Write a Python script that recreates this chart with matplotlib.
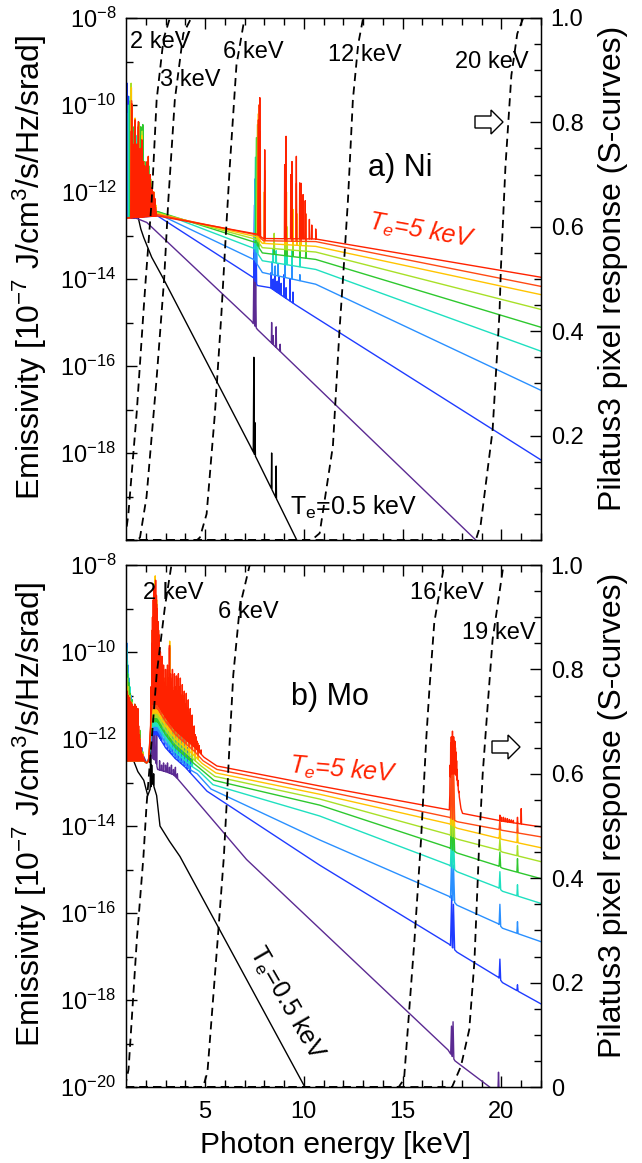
import numpy as np
import matplotlib
matplotlib.use("Agg")
import matplotlib.pyplot as plt
from matplotlib.patches import FancyArrow
from matplotlib.ticker import FixedLocator, FixedFormatter

plt.rcParams['font.family'] = ['Liberation Sans', 'DejaVu Sans']
plt.rcParams['mathtext.fontset'] = 'custom'
plt.rcParams['mathtext.rm'] = 'Liberation Sans'
plt.rcParams['mathtext.it'] = 'Liberation Sans:italic'
plt.rcParams['mathtext.bf'] = 'Liberation Sans:bold'

# electron temperatures (keV) and their colours, coldest first
TEMPS = [0.5, 1.0, 1.5, 2.0, 2.5, 3.0, 3.5, 4.0, 4.5, 5.0]
COLORS = ['#000000', '#5b2a92', '#1f3cff', '#2a90ff', '#1fe0c0',
          '#2ec82e', '#a8e028', '#ffc400', '#ff4a14', '#ff2200']

# ---------- a) Ni : log10 emissivity, smooth base (E, log) + lines (E, log[, half width]) ----------
NI_BASE = [
    [(1.0, -12.3), (1.2, -12.4), (1.37, -12.6), (1.6, -12.55), (1.75, -12.85), (1.9, -13.05), (2.3, -13.5),
     (2.9, -14.0), (7.3, -17.85), (7.6, -18.12), (9.64, -20.0), (10.0, -20.35)],
    [(1.0, -12.6), (1.5, -12.6), (2.05, -12.7), (5.9, -14.35), (7.35, -14.97), (7.65, -15.16), (18.7, -20.0), (19.0, -20.13)],
    [(1.0, -12.6), (2.6, -12.55), (7.45, -13.97), (7.65, -14.15), (8.3, -14.2), (9.6, -14.6), (22.0, -18.16)],
    [(1.0, -12.6), (2.6, -12.5), (7.5, -13.56), (7.9, -13.85), (10.6, -14.12), (22.0, -16.56)],
    [(1.0, -12.6), (2.6, -12.45), (7.5, -13.3), (7.9, -13.58), (10.6, -13.78), (22.0, -15.66)],
    [(1.0, -12.6), (2.6, -12.45), (7.55, -13.16), (7.9, -13.4), (10.6, -13.55), (22.0, -15.11)],
    [(1.0, -12.6), (2.6, -12.48), (7.6, -13.09), (7.9, -13.28), (10.6, -13.38), (22.0, -14.70)],
    [(1.0, -12.6), (2.6, -12.5), (7.6, -13.03), (7.9, -13.18), (10.6, -13.25), (22.0, -14.36)],
    [(1.0, -12.6), (2.6, -12.52), (7.65, -12.99), (7.95, -13.12), (10.6, -13.14), (22.0, -14.17)],
    [(1.0, -12.6), (2.6, -12.55), (7.65, -12.97), (7.95, -13.07), (10.6, -13.08), (22.0, -13.96)],
]
NI_LINES = [
    [(1.04, -11.2), (1.1, -11.6), (1.16, -11.8), (1.25, -12.1), (7.47, -15.8, 0.03), (7.52, -17.3, 0.03),
     (8.37, -18.0), (8.6, -18.3)],
    [(1.0, -8.4), (1.02, -9.5), (1.04, -9.8), (1.07, -10.5), (1.1, -11.0), (1.15, -11.5), (1.22, -11.9), (1.3, -12.2),
     (1.45, -12.4), (7.48, -13.4, 0.04), (7.56, -13.9, 0.03), (8.37, -15.0), (8.45, -15.3), (8.6, -15.1), (8.8, -15.5)],
    [(1.0, -9.4), (1.03, -10.0), (1.06, -9.5), (1.09, -10.2), (1.12, -9.8), (1.16, -10.5), (1.2, -10.3), (1.25, -10.9),
     (1.32, -11.2), (1.4, -11.5), (1.5, -11.8), (1.6, -11.9), (1.75, -12.2), (1.9, -12.3), (2.05, -12.45),
     (7.5, -12.3, 0.04), (7.58, -12.9, 0.03), (8.35, -13.85), (8.45, -14.0), (8.55, -13.9), (8.65, -14.05),
     (8.75, -13.95), (8.85, -14.1), (9.0, -13.9), (9.1, -14.2), (9.3, -14.0), (9.45, -14.3)],
    [(1.03, -10.0), (1.1, -10.2), (1.18, -10.0), (1.26, -10.6), (1.35, -11.0), (1.45, -11.2), (1.55, -11.5),
     (1.65, -11.4), (1.8, -11.8), (1.95, -12.0), (2.1, -12.2), (2.3, -12.4),
     (7.52, -11.7, 0.04), (7.6, -12.2, 0.03), (8.4, -13.6), (8.55, -13.7), (8.7, -13.65), (9.05, -13.55),
     (9.4, -13.7), (9.8, -13.9)],
    [(1.15, -10.0), (1.22, -9.8), (1.3, -10.3), (1.4, -10.9), (1.5, -10.7), (1.62, -10.9), (1.72, -11.0),
     (1.85, -11.3), (1.95, -11.6), (2.1, -11.9), (2.3, -12.2), (2.45, -12.35),
     (7.55, -11.2, 0.04), (7.65, -11.8, 0.03), (8.45, -13.3), (8.6, -13.35), (9.05, -13.2), (9.15, -13.3),
     (9.4, -13.35), (9.8, -13.5)],
    [(1.22, -9.9), (1.27, -9.6), (1.35, -10.5), (1.44, -10.8), (1.55, -10.9), (1.65, -10.4), (1.75, -10.5),
     (1.85, -10.45), (1.95, -11.3), (2.05, -11.6), (2.15, -11.4), (2.3, -11.9), (2.45, -12.2),
     (7.6, -10.75, 0.04), (7.7, -11.4, 0.03), (8.5, -13.1), (9.05, -12.9), (9.15, -13.0), (9.45, -13.1),
     (9.8, -13.25), (10.1, -13.35)],
    [(1.26, -9.5), (1.3, -10.0), (1.4, -10.9), (1.47, -10.35), (1.56, -11.0), (1.64, -10.4), (1.73, -11.2),
     (1.82, -10.6), (1.9, -11.3), (2.02, -11.5), (2.12, -11.2), (2.25, -11.7), (2.4, -12.0), (2.5, -12.3),
     (7.65, -10.45, 0.04), (7.72, -11.0, 0.03), (8.5, -12.95), (9.05, -12.7), (9.15, -12.8), (9.45, -12.85),
     (9.8, -13.0), (10.1, -13.15)],
    [(1.27, -9.6), (1.32, -10.4), (1.4, -11.0), (1.46, -10.3), (1.55, -11.1), (1.63, -10.45), (1.72, -11.2),
     (1.8, -10.7), (1.9, -11.4), (2.0, -11.5), (2.12, -11.2), (2.25, -11.8), (2.4, -12.0), (2.5, -12.3),
     (7.7, -10.2, 0.04), (7.75, -10.8, 0.03), (8.0, -12.0), (9.05, -12.2), (9.12, -12.0), (9.45, -12.4),
     (9.65, -12.5), (9.85, -12.7)],
    [(1.28, -9.9), (1.33, -10.6), (1.38, -11.0), (1.45, -10.4), (1.52, -11.2), (1.62, -10.5), (1.7, -11.3),
     (1.8, -10.9), (1.9, -11.5), (2.0, -11.6), (2.12, -11.3), (2.25, -11.9), (2.4, -12.1), (2.5, -12.35),
     (7.72, -10.0, 0.04), (7.78, -10.6, 0.03), (8.02, -11.5), (9.05, -11.8), (9.1, -11.3), (9.4, -12.0),
     (9.62, -11.8), (9.85, -12.3), (10.1, -12.5)],
    [(1.27, -10.6), (1.29, -9.97), (1.31, -10.8), (1.34, -11.3), (1.37, -10.9), (1.40, -11.6), (1.43, -11.0),
     (1.46, -10.34), (1.49, -11.2), (1.52, -11.7), (1.55, -10.9), (1.58, -11.5), (1.61, -11.1), (1.63, -10.38),
     (1.66, -11.4), (1.69, -11.8), (1.72, -11.0), (1.75, -11.6), (1.78, -11.2), (1.80, -10.8), (1.83, -11.5),
     (1.86, -12.0), (1.89, -11.3), (1.92, -11.8), (1.95, -11.4), (1.98, -12.1), (2.01, -11.5), (2.04, -11.9),
     (2.07, -11.3), (2.10, -11.7), (2.13, -11.18), (2.16, -11.9), (2.19, -12.2), (2.22, -11.6), (2.25, -12.0),
     (2.28, -12.3), (2.31, -11.9), (2.34, -12.2), (2.37, -12.4), (2.40, -12.0), (2.43, -12.3), (2.46, -12.15),
     (2.49, -12.4), (2.52, -12.45),
     (7.70, -10.34, 0.03), (7.77, -9.83, 0.03), (8.02, -11.03, 0.025),
     (9.03, -11.37), (9.1, -10.72), (9.34, -11.6), (9.4, -11.3), (9.62, -11.18), (9.79, -11.79), (9.86, -11.8),
     (9.96, -12.06), (10.07, -12.2), (10.28, -12.63), (10.4, -12.76), (10.6, -12.85)],
]

# ---------- b) Mo ----------
MO_BASE = [
    [(1.0, -12.1), (1.3, -12.4), (1.6, -12.75), (1.9, -12.95), (2.1, -13.3), (2.35, -13.0), (2.55, -13.3),
     (2.72, -14.0), (3.2, -14.35), (3.73, -14.7), (10.05, -20.0), (10.3, -20.2)],
    [(1.0, -11.6), (1.3, -11.8), (1.6, -12.1), (2.04, -12.55), (2.2, -12.4), (2.5, -12.5), (2.6, -12.7),
     (3.0, -12.75), (3.4, -12.82), (3.64, -12.93), (7.1, -14.77), (17.3, -19.15), (17.65, -19.4),
     (19.4, -20.0), (19.6, -20.1)],
    [(1.0, -12.5), (1.9, -12.5), (2.04, -12.55), (2.15, -12.5), (2.3, -11.9), (2.6, -11.9), (3.0, -12.2),
     (3.5, -12.45), (4.0, -12.65), (4.4, -12.85), (5.1, -13.2), (10.8, -14.9), (17.36, -16.72),
     (17.75, -16.9), (19.85, -17.48), (20.05, -17.6), (22.0, -18.09)],
    [(1.0, -12.5), (1.9, -12.5), (2.04, -12.55), (2.15, -12.5), (2.3, -11.8), (2.6, -11.8), (3.0, -12.1),
     (3.5, -12.4), (4.0, -12.6), (4.3, -12.72), (4.6, -12.8), (5.3, -13.15), (10.8, -14.32), (17.36, -15.62),
     (17.75, -15.82), (19.85, -16.25), (20.05, -16.35), (22.0, -16.66)],
    [(1.0, -12.5), (1.9, -12.5), (2.04, -12.55), (2.15, -12.5), (2.3, -11.7), (2.6, -11.7), (3.0, -12.0),
     (3.5, -12.3), (4.0, -12.5), (4.4, -12.65), (4.7, -12.74), (5.4, -13.05), (10.8, -13.77), (17.36, -14.9),
     (17.75, -15.05), (19.85, -15.42), (20.05, -15.5), (22.0, -15.78)],
    [(1.0, -12.5), (1.9, -12.5), (2.04, -12.55), (2.15, -12.5), (2.3, -11.6), (2.6, -11.6), (3.0, -11.9),
     (3.5, -12.2), (4.0, -12.4), (4.4, -12.55), (4.75, -12.68), (5.45, -12.95), (10.8, -13.52), (17.36, -14.5),
     (17.75, -14.62), (19.85, -14.92), (20.05, -14.97), (22.0, -15.21)],
    [(1.0, -12.5), (1.9, -12.5), (2.04, -12.55), (2.15, -12.5), (2.3, -11.5), (2.6, -11.5), (3.0, -11.8),
     (3.5, -12.1), (4.0, -12.3), (4.5, -12.5), (4.8, -12.62), (5.5, -12.86), (10.8, -13.38), (17.36, -14.2),
     (17.75, -14.3), (19.85, -14.55), (20.05, -14.6), (22.0, -14.82)],
    [(1.0, -12.5), (1.9, -12.5), (2.04, -12.55), (2.15, -12.5), (2.3, -11.4), (2.6, -11.4), (3.0, -11.7),
     (3.5, -12.0), (4.0, -12.2), (4.5, -12.4), (4.85, -12.56), (5.55, -12.78), (10.8, -13.27), (17.36, -13.95),
     (17.75, -14.05), (19.85, -14.28), (20.05, -14.31), (22.0, -14.5)],
    [(1.0, -12.5), (1.9, -12.5), (2.04, -12.55), (2.15, -12.5), (2.3, -11.3), (2.6, -11.3), (3.0, -11.6),
     (3.5, -11.9), (4.0, -12.1), (4.5, -12.3), (4.9, -12.5), (5.6, -12.7), (10.8, -13.17), (17.36, -13.8),
     (17.75, -13.9), (19.85, -14.08), (20.05, -14.1), (22.0, -14.25)],
    [(1.0, -12.5), (1.9, -12.5), (2.04, -12.55), (2.15, -12.5), (2.3, -11.2), (2.6, -11.2), (3.0, -11.5),
     (3.5, -11.8), (4.0, -12.0), (4.5, -12.2), (4.95, -12.42), (5.6, -12.62), (10.8, -13.08), (17.36, -13.63),
     (17.42, -12.8), (17.7, -12.8), (17.95, -13.6), (18.03, -13.71), (19.85, -13.87), (20.05, -13.89),
     (22.0, -14.02)],
]
MO_LINES = [
    [(2.25, -12.1, 0.03), (2.3, -12.6, 0.03), (2.4, -12.8)],
    [(2.35, -10.8, 0.03), (2.45, -11.2, 0.03), (2.55, -11.9), (2.7, -12.5), (2.8, -12.6), (2.9, -12.55),
     (3.0, -12.6), (3.1, -12.55), (3.2, -12.65), (3.3, -12.6), (3.4, -12.7), (3.5, -12.65), (3.6, -12.8),
     (17.47, -18.6, 0.04), (17.55, -18.5, 0.04), (19.85, -19.66, 0.03)],
    [(1.0, -10.0), (1.03, -10.4), (1.06, -10.2), (1.1, -10.7), (1.15, -11.0), (1.25, -11.4), (1.35, -11.7),
     (1.5, -11.9), (1.65, -12.1), (1.8, -12.3),
     (2.32, -11.0), (2.4, -10.3), (2.48, -9.9), (2.55, -10.4), (2.65, -11.0), (2.72, -11.4),
     (2.8, -11.3), (2.95, -11.5), (3.1, -11.4), (3.22, -11.0), (3.35, -11.3), (3.5, -11.45), (3.65, -11.6),
     (3.8, -11.8), (3.95, -12.0), (4.1, -12.2), (4.25, -12.45),
     (17.48, -15.6, 0.06), (17.57, -15.8, 0.06), (19.92, -17.06, 0.04), (20.81, -17.65, 0.03)],
    [(1.0, -9.6), (1.03, -10.0), (1.06, -9.8), (1.1, -10.3), (1.15, -10.6), (1.25, -11.0), (1.35, -11.3),
     (1.5, -11.5), (1.65, -11.9), (1.8, -12.2),
     (2.32, -10.6), (2.4, -9.7), (2.48, -9.3), (2.55, -9.8), (2.65, -10.5), (2.72, -10.9),
     (2.8, -11.0), (2.95, -11.3), (3.1, -11.2), (3.22, -10.7), (3.3, -11.3), (3.45, -11.5), (3.6, -11.5),
     (3.75, -11.7), (3.9, -11.9), (4.05, -12.1), (4.2, -12.3),
     (17.48, -14.7, 0.06), (17.57, -14.9, 0.06), (19.92, -15.8, 0.04), (20.81, -16.2, 0.03)],
    [(1.0, -9.7), (1.03, -9.9), (1.07, -10.2), (1.12, -10.5), (1.2, -10.8), (1.3, -11.1), (1.42, -11.3),
     (1.55, -11.4), (1.7, -11.9), (1.85, -12.3),
     (2.32, -10.3), (2.4, -9.3), (2.48, -8.9), (2.55, -9.4), (2.65, -10.2), (2.72, -10.6),
     (2.8, -10.8), (2.95, -11.1), (3.1, -11.0), (3.22, -10.4), (3.3, -11.2), (3.45, -11.3), (3.6, -11.3),
     (3.75, -11.5), (3.9, -11.7), (4.05, -11.9), (4.2, -12.1), (4.35, -12.3),
     (17.48, -14.0, 0.06), (17.57, -14.2, 0.06), (19.92, -15.05, 0.04), (20.81, -15.35, 0.03)],
    [(1.0, -10.0), (1.04, -10.3), (1.08, -10.5), (1.14, -10.7), (1.22, -10.95), (1.32, -11.1), (1.45, -11.2),
     (1.58, -11.3), (1.7, -11.8), (1.85, -12.3),
     (2.32, -10.0), (2.4, -9.0), (2.48, -8.6), (2.55, -9.1), (2.65, -9.9), (2.72, -10.4),
     (2.8, -10.6), (2.95, -10.9), (3.1, -10.8), (3.22, -10.1), (3.3, -11.0), (3.45, -11.1), (3.6, -11.1),
     (3.75, -11.3), (3.9, -11.5), (4.05, -11.7), (4.2, -11.9), (4.35, -12.1),
     (17.48, -13.5, 0.06), (17.57, -13.65, 0.06), (19.92, -14.6, 0.04), (20.81, -14.75, 0.03)],
    [(1.0, -10.3), (1.05, -10.6), (1.12, -10.8), (1.2, -11.0), (1.3, -11.15), (1.42, -11.3), (1.55, -11.3),
     (1.68, -11.8), (1.85, -12.3),
     (2.32, -9.8), (2.4, -8.8), (2.48, -8.35), (2.55, -8.9), (2.65, -9.7), (2.72, -10.2),
     (2.8, -10.5), (2.95, -10.8), (3.1, -10.6), (3.22, -9.85), (3.3, -10.8), (3.45, -11.0), (3.6, -10.9),
     (3.75, -11.1), (3.9, -11.3), (4.05, -11.5), (4.2, -11.7), (4.35, -11.9), (4.5, -12.1),
     (17.48, -13.1, 0.06), (17.57, -13.25, 0.06), (19.92, -14.3, 0.04), (20.81, -14.45, 0.03)],
    [(1.0, -10.5), (1.06, -10.8), (1.14, -11.0), (1.24, -11.2), (1.36, -11.3), (1.48, -11.35), (1.6, -11.5),
     (1.72, -12.0), (1.86, -12.35),
     (2.32, -9.6), (2.4, -8.7), (2.48, -8.25), (2.55, -8.8), (2.65, -9.6), (2.72, -10.1),
     (2.8, -10.4), (2.95, -10.7), (3.1, -10.5), (3.21, -9.75), (3.3, -10.7), (3.45, -10.9), (3.6, -10.7),
     (3.75, -11.0), (3.9, -11.1), (4.05, -11.3), (4.2, -11.5), (4.35, -11.7), (4.5, -12.0), (4.65, -12.2),
     (17.48, -12.75, 0.06), (17.57, -12.9, 0.06), (19.92, -14.05, 0.04), (20.81, -14.15, 0.03)],
    [(1.0, -10.7), (1.06, -11.0), (1.14, -11.1), (1.24, -11.3), (1.36, -11.3), (1.48, -11.45), (1.6, -11.55),
     (1.72, -12.0), (1.86, -12.4),
     (2.32, -9.5), (2.4, -8.8), (2.48, -8.5), (2.55, -8.9), (2.65, -9.5), (2.72, -10.0),
     (2.8, -10.3), (2.95, -10.6), (3.1, -10.4), (3.2, -9.9), (3.3, -10.6), (3.45, -10.8), (3.6, -10.6),
     (3.75, -10.9), (3.9, -11.0), (4.05, -11.2), (4.2, -11.4), (4.35, -11.6), (4.5, -11.9), (4.65, -12.1),
     (17.48, -12.3, 0.06), (17.57, -12.45, 0.06), (19.92, -13.85, 0.04), (20.81, -13.9, 0.03)],
    [(1.00, -10.8), (1.03, -11.1), (1.06, -10.9), (1.09, -11.2), (1.12, -11.0), (1.15, -11.3), (1.18, -11.05),
     (1.21, -11.35), (1.24, -11.15), (1.27, -11.4), (1.30, -11.2), (1.33, -11.45), (1.36, -11.25), (1.40, -11.5),
     (1.44, -11.2), (1.48, -11.4), (1.52, -11.25), (1.56, -11.5), (1.60, -11.3), (1.64, -11.7), (1.68, -11.9),
     (1.72, -12.1), (1.78, -12.2), (1.84, -12.35), (1.90, -12.45),
     (2.26, -10.8), (2.30, -9.8), (2.34, -9.2), (2.38, -8.8), (2.42, -8.5), (2.46, -8.6), (2.50, -8.35),
     (2.54, -8.7), (2.58, -9.0), (2.62, -9.3), (2.66, -9.6), (2.70, -9.9),
     (2.74, -10.0), (2.78, -10.4), (2.82, -10.1), (2.86, -10.6), (2.90, -10.3), (2.95, -10.7), (3.00, -10.4),
     (3.05, -10.8), (3.10, -10.3), (3.15, -10.6), (3.20, -9.85), (3.25, -10.5), (3.30, -10.7), (3.35, -10.4),
     (3.40, -10.9), (3.45, -10.5), (3.50, -10.8), (3.55, -10.55), (3.60, -10.9), (3.65, -10.5), (3.70, -10.8),
     (3.75, -10.6), (3.80, -11.0), (3.85, -10.75), (3.90, -11.1), (3.95, -10.9), (4.00, -11.2), (4.05, -10.95),
     (4.10, -11.3), (4.15, -11.1), (4.20, -11.4), (4.25, -11.3), (4.30, -11.6), (4.35, -11.45), (4.40, -11.75),
     (4.45, -11.7), (4.50, -11.9), (4.55, -11.95), (4.60, -12.05), (4.70, -12.15), (4.80, -12.25),
     (17.40, -12.6), (17.43, -12.1), (17.46, -11.95), (17.49, -12.05), (17.52, -11.82), (17.55, -12.0),
     (17.58, -11.95), (17.61, -12.1), (17.64, -12.05), (17.67, -12.2), (17.70, -12.3), (17.73, -12.5),
     (17.76, -12.7), (17.80, -12.95), (17.85, -13.2), (17.90, -13.45),
     (19.92, -13.75), (20.0, -13.8), (20.1, -13.8), (20.2, -13.82), (20.3, -13.83), (20.4, -13.85),
     (20.5, -13.86), (20.6, -13.87), (20.81, -13.8), (21.0, -13.6)],
]

# ---------- Pilatus3 S-curves (threshold keV, points (E, response)) ----------
NI_S_KEV = [2, 3, 6, 12, 20]
NI_S = [
    [(0.95, 0.0), (1.12, 0.05), (1.54, 0.243), (1.88, 0.435), (2.0, 0.5), (2.3, 0.65), (2.55, 0.843), (2.9, 0.96),
     (3.22, 1.0), (22.0, 1.0)],
    [(1.0, 0.0), (1.6, 0.0), (1.71, 0.005), (2.04, 0.083), (2.55, 0.31), (2.93, 0.5), (3.14, 0.65), (3.47, 0.843),
     (3.9, 0.97), (4.3, 1.0), (22.0, 1.0)],
    [(1.0, 0.0), (4.6, 0.0), (4.74, 0.005), (5.08, 0.05), (5.5, 0.243), (5.83, 0.435), (6.0, 0.55), (6.25, 0.715),
     (6.59, 0.91), (7.0, 1.0), (22.0, 1.0)],
    [(1.0, 0.0), (10.4, 0.0), (10.8, 0.013), (11.47, 0.18), (11.8, 0.40), (11.98, 0.5), (12.23, 0.65),
     (12.48, 0.843), (12.75, 0.95), (13.0, 1.0), (22.0, 1.0)],
    [(1.0, 0.0), (18.7, 0.0), (18.95, 0.03), (19.55, 0.21), (19.9, 0.435), (19.97, 0.52), (20.2, 0.715),
     (20.5, 0.89), (20.8, 0.97), (21.1, 1.0), (22.0, 1.0)],
]
MO_S_KEV = [2, 6, 16, 19]
MO_S = [
    [(0.95, 0.0), (1.13, 0.034), (1.55, 0.283), (1.88, 0.44), (2.04, 0.54), (2.3, 0.665), (2.55, 0.79),
     (2.97, 0.92), (3.3, 1.0), (22.0, 1.0)],
    [(1.0, 0.0), (4.9, 0.0), (5.12, 0.028), (5.64, 0.283), (5.95, 0.44), (6.09, 0.54), (6.25, 0.665),
     (6.43, 0.79), (6.76, 0.92), (7.26, 1.0), (22.0, 1.0)],
    [(1.0, 0.0), (14.8, 0.0), (15.07, 0.015), (15.6, 0.283), (15.93, 0.474), (16.02, 0.54), (16.19, 0.665),
     (16.35, 0.76), (16.6, 0.89), (17.1, 1.0), (22.0, 1.0)],
    [(1.0, 0.0), (17.5, 0.0), (17.95, 0.04), (18.37, 0.11), (18.63, 0.24), (18.8, 0.398), (18.88, 0.474),
     (19.05, 0.60), (19.3, 0.73), (19.55, 0.857), (20.1, 1.0), (22.0, 1.0)],
]

W, H = 642, 1163
X0, XW, PH = 126, 415, 522


def spectrum(base, lines, hw=0.015):
    be = [p[0] for p in base]
    bl = [p[1] for p in base]
    pts = list(base)
    for ln in lines:
        e, top = ln[0], ln[1]
        w = ln[2] if len(ln) > 2 else hw
        pts += [(e - w, np.interp(e - w, be, bl)), (e, top), (e + w, np.interp(e + w, be, bl))]
    pts.sort(key=lambda p: p[0])
    e = np.array([p[0] for p in pts])
    return e, 10.0 ** np.array([p[1] for p in pts])


def fx(px):
    return (px - X0) / XW


def panel(top, bases, lines, s_kev, scurves, label_bottom):
    ax = fig.add_axes([X0 / W, 1 - (top + PH) / H, XW / W, PH / H])
    ax.set_yscale('log')
    for base, ln, col in zip(bases, lines, COLORS):
        e, y = spectrum(base, ln)
        ax.plot(e, y, color=col, lw=1.0)
    ax.set_xlim(1, 22)
    ax.set_ylim(1e-20, 1e-8)

    exps = list(range(-8, -21, -2))
    ax.yaxis.set_major_locator(FixedLocator([10.0 ** k for k in exps]))
    labs = ['$10^{%d}$' % k for k in exps]
    if not label_bottom:
        labs[-1] = ''
    ax.yaxis.set_major_formatter(FixedFormatter(labs))
    ax.yaxis.set_minor_locator(FixedLocator([10.0 ** k for k in range(-9, -20, -2)]))
    ax.yaxis.set_minor_formatter(FixedFormatter([]))
    ax.xaxis.set_major_locator(FixedLocator([5, 10, 15, 20]))
    ax.xaxis.set_minor_locator(FixedLocator(range(2, 23)))
    ax.tick_params(axis='both', which='both', direction='in', top=True, right=False, width=1.0)
    ax.tick_params(axis='both', which='major', length=8, labelsize=17, pad=7)
    ax.tick_params(axis='x', which='major', pad=10)
    ax.tick_params(axis='both', which='minor', length=5)
    if not label_bottom:
        ax.tick_params(axis='x', labelbottom=False)
    for sp in ax.spines.values():
        sp.set_linewidth(1.0)

    ax2 = ax.twinx()
    for pts in scurves:
        ax2.plot([p[0] for p in pts], [p[1] for p in pts], color='black', lw=1.3,
                 linestyle=(0, (4.5, 3.0)))
    ax2.set_ylim(0, 1)
    ax2.yaxis.set_major_locator(FixedLocator([0, 0.2, 0.4, 0.6, 0.8, 1.0]))
    rlabs = ['0', '0.2', '0.4', '0.6', '0.8', '1.0']
    if not label_bottom:
        rlabs[0] = ''
    ax2.yaxis.set_major_formatter(FixedFormatter(rlabs))
    ax2.yaxis.set_minor_locator(FixedLocator(np.arange(0.05, 1.0, 0.05)))
    ax2.tick_params(axis='y', which='both', direction='in', width=1.0)
    ax2.tick_params(axis='y', which='major', length=8, labelsize=17, pad=7)
    ax2.tick_params(axis='y', which='minor', length=5)
    return ax, ax2


fig = plt.figure(figsize=(W / 100, H / 100), dpi=100)

axa, axa2 = panel(18, NI_BASE, NI_LINES, NI_S_KEV, NI_S, False)
axb, axb2 = panel(565, MO_BASE, MO_LINES, MO_S_KEV, MO_S, True)

# threshold labels
kw = dict(transform=axa.transAxes, fontsize=17, va='center', ha='left')
for txt, px, py in [('2 keV', 130, 42), ('3 keV', 160, 80), ('6 keV', 223, 52),
                    ('12 keV', 328, 55), ('20 keV', 455, 62)]:
    axa.text(fx(px), 1 - (py - 18) / PH, txt, **kw)
kw['transform'] = axb.transAxes
for txt, px, py in [('2 keV', 143, 593), ('6 keV', 218, 612), ('16 keV', 410, 593), ('19 keV', 462, 633)]:
    axb.text(fx(px), 1 - (py - 565) / PH, txt, **kw)

axa.text(fx(400), 1 - (168 - 18) / PH, 'a) Ni', transform=axa.transAxes, fontsize=22, ha='center', va='center')
axb.text(fx(330), 1 - (697 - 565) / PH, 'b) Mo', transform=axb.transAxes, fontsize=22, ha='center', va='center')

axa.text(fx(422), 1 - (231 - 18) / PH, r'$T_e$=5 keV', transform=axa.transAxes, fontsize=18, color='#ff2200',
         style='italic', ha='center', va='center', rotation=-10)
axb.text(fx(343), 1 - (770 - 565) / PH, r'$T_e$=5 keV', transform=axb.transAxes, fontsize=18, color='#ff2200',
         style='italic', ha='center', va='center', rotation=-5)
axa.text(fx(290), 1 - (507 - 18) / PH, r'$\mathrm{T_e}$=0.5 keV', transform=axa.transAxes, fontsize=18,
         ha='left', va='center')
axb.text(fx(287), 1 - (1003 - 565) / PH, r'$\mathrm{T_e}$=0.5 keV', transform=axb.transAxes, fontsize=18,
         ha='center', va='center', rotation=-60)

# hollow arrows pointing to the right-hand axis
for x0, x1, yc in [(475, 503, 122), (492, 520, 747)]:
    fig.patches.append(FancyArrow(x0 / W, 1 - yc / H, (x1 - x0) / W, 0, width=12 / H, head_width=24 / H,
                                  head_length=12 / W, length_includes_head=True, fill=False,
                                  edgecolor='black', lw=1.0, transform=fig.transFigure, figure=fig))

for yc in [268, 815]:
    fig.text(30 / W, 1 - yc / H, r'Emissivity [10$^{-7}$ J/cm$^3$/s/Hz/srad]', rotation=90,
             fontsize=23, ha='center', va='center')
    fig.text(613 / W, 1 - yc / H, 'Pilatus3 pixel response (S-curves)', rotation=90,
             fontsize=23, ha='center', va='center')
fig.text(336 / W, 1 - 1145 / H, 'Photon energy [keV]', fontsize=21.5, ha='center', va='center')

fig.savefig('out.png', dpi=100)
